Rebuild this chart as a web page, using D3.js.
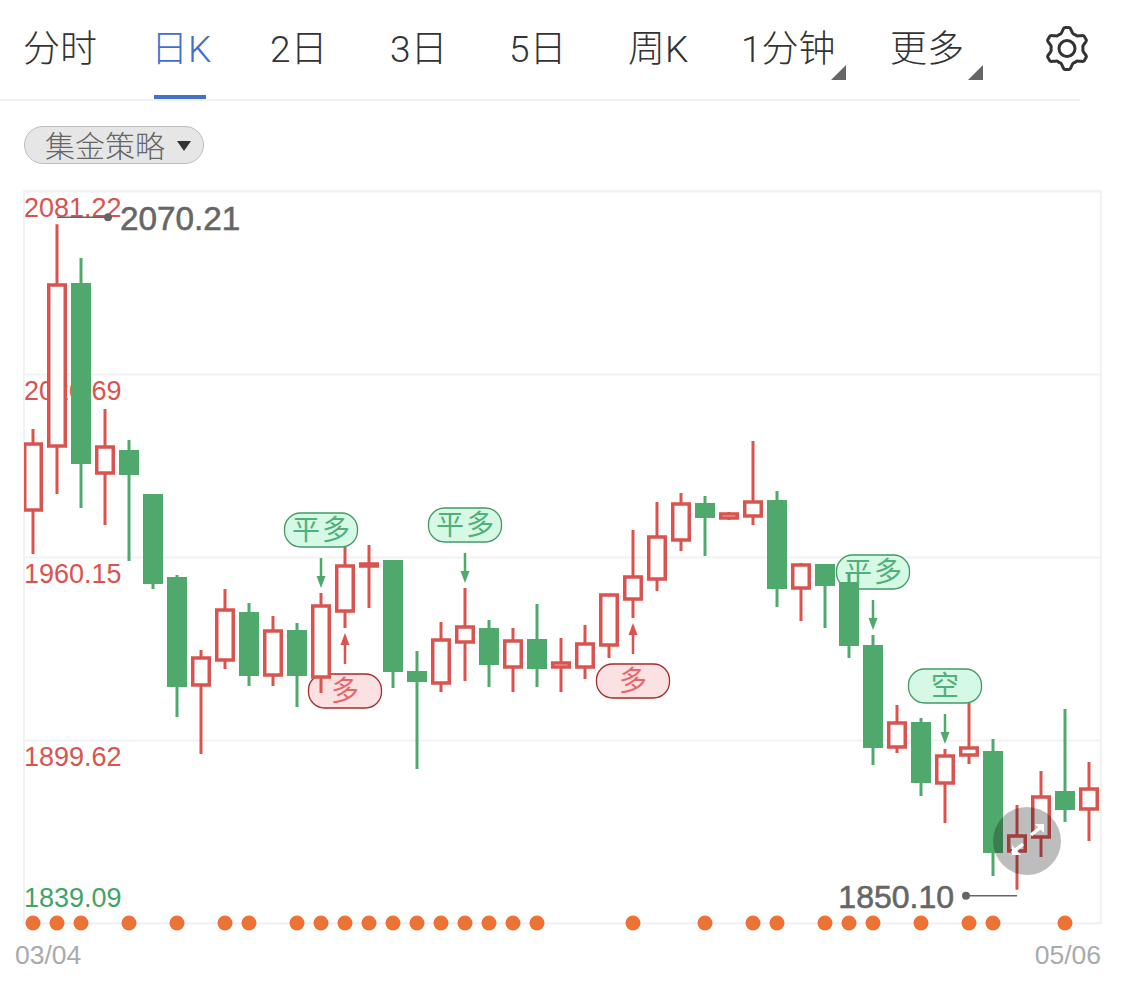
<!DOCTYPE html>
<html><head><meta charset="utf-8">
<script src="https://cdnjs.cloudflare.com/ajax/libs/d3/7.8.5/d3.min.js"></script>
<style>html,body{margin:0;padding:0;background:#fff}svg{display:block}text{font-family:"Liberation Sans","Noto Sans CJK SC",sans-serif}</style>
</head><body><svg id="c" width="1125" height="986"></svg>
<script>
const opens=[1975.70,1996.87,2050.79,1987.94,1995.55,1980.99,1953.54,1917.82,1926.09,1941.96,1921.12,1936.01,1920.46,1942.29,1957.18,1959.16,1922.45,1918.48,1932.04,1936.67,1923.77,1933.03,1923.77,1923.77,1931.05,1946.26,1952.88,1965.78,1978.02,1973.06,1973.72,1979.01,1949.90,1957.84,1951.89,1931.05,1897.31,1905.58,1885.40,1894.66,1895.98,1862.91,1867.54,1882.75,1876.80];
const closes=[1997.53,2050.13,1990.92,1996.54,1987.28,1951.22,1917.15,1926.75,1942.62,1920.79,1935.68,1920.79,1943.95,1957.18,1957.84,1922.12,1918.81,1932.70,1937.00,1924.43,1932.37,1923.11,1925.09,1931.38,1947.59,1953.54,1966.77,1977.69,1973.06,1974.38,1978.35,1949.57,1957.51,1950.56,1930.72,1896.98,1905.25,1885.40,1894.33,1896.98,1862.24,1867.87,1880.77,1876.47,1883.41];
const highs=[2002.50,2070.21,2059.06,2009.11,1998.86,1980.99,1954.20,1929.39,1949.57,1944.94,1940.64,1938.32,1948.25,1963.46,1964.12,1959.16,1929.06,1938.65,1949.90,1939.32,1936.67,1944.61,1933.36,1937.66,1947.92,1969.09,1978.35,1981.33,1980.33,1975.04,1998.53,1981.99,1958.17,1957.84,1954.53,1934.35,1911.20,1906.90,1896.65,1911.86,1899.95,1878.12,1889.37,1909.88,1892.35];
const lows=[1961.15,1980.99,1976.36,1970.74,1958.83,1949.57,1907.23,1894.99,1923.11,1917.48,1917.48,1910.54,1915.17,1936.67,1943.29,1916.82,1890.03,1915.50,1919.14,1917.15,1915.50,1917.15,1915.50,1919.80,1926.75,1939.98,1948.91,1962.14,1960.49,1972.39,1970.74,1943.62,1938.99,1936.67,1926.75,1891.35,1895.32,1881.10,1872.17,1891.68,1854.64,1850.10,1860.92,1872.50,1866.21];
const dotIndexes=[0,1,2,4,6,8,9,11,12,13,14,15,16,17,18,19,20,21,25,28,30,31,33,34,35,37,39,40,43];
const priceTicks=[2081.22,2020.69,1960.15,1899.62,1839.09];
const dateLabels=["03/04","05/06"];
const tabs=["分时","日K","2日","3日","5日","周K","1分钟","更多"];
const shortSignals=[{i:12,t:"平多"},{i:18,t:"平多"},{i:35,t:"平多"},{i:38,t:"空"}];
const longSignals=[{i:13,t:"多"},{i:25,t:"多"}];
const strategyLabel="集金策略";

const RED="#d9534f",GREEN="#4fa96c",GRID="#f2f2f2";
const svg=d3.select("#c");
const L=24,R=1101,T=191,B=923;
const y=d3.scaleLinear().domain([1839.09,2081.22]).range([B,T]);
const x=d3.scaleLinear().domain([0,44]).range([33,1089]);
const candles=opens.map((o,i)=>({i,o,c:closes[i],h:highs[i],l:lows[i],up:closes[i]>=o}));

// header
const tabX=[23,151,270,390,509,628,741,890];
svg.selectAll(".tab").data(tabs).join("text").attr("class","tab")
 .attr("x",(d,i)=>tabX[i]).attr("y",62).attr("font-size",37).attr("font-weight",300)
 .style("font-family",'Roboto,"Noto Sans CJK SC",sans-serif')
 .attr("fill",(d,i)=>i==1?"#3f6fd1":"#333").text(d=>d);
svg.append("rect").attr("x",0).attr("y",99).attr("width",1080).attr("height",2).attr("fill","#f1f1f1");
svg.append("rect").attr("x",154).attr("y",95).attr("width",52).attr("height",4).attr("fill","#4472c4");
[[846,65],[983,65]].forEach(p=>svg.append("path").attr("d",`M${p[0]} ${p[1]}V${p[1]+15}H${p[0]-15}Z`).attr("fill","#666"));
// gear
const gearPts=d3.range(48).map(k=>{const a=k/48*2*Math.PI;const ph=((k%8)+8)%8;const r=(ph<=1||ph==7)?21:(ph==2||ph==6)?18:16;return [a,r];});
svg.append("path").attr("transform","translate(1067,48.5)").attr("d",d3.lineRadial().angle(d=>d[0]).radius(d=>d[1]).curve(d3.curveCatmullRomClosed)(gearPts)).attr("fill","none").attr("stroke","#333").attr("stroke-width",3);
svg.append("circle").attr("cx",1067).attr("cy",48.5).attr("r",8).attr("fill","none").attr("stroke","#333").attr("stroke-width",3);
// pill
svg.append("rect").attr("x",24.5).attr("y",126.5).attr("width",179).attr("height",37).attr("rx",18.5).attr("fill","#e6e6e6").attr("stroke","#bdbdbd");
svg.append("text").attr("x",45).attr("y",157).attr("font-size",30).attr("font-weight",300).attr("fill","#666").text(strategyLabel);
svg.append("path").attr("d","M177 141H191L184 151Z").attr("fill","#333");

// plot frame
svg.append("rect").attr("x",L).attr("y",T).attr("width",R-L).attr("height",B-T).attr("fill","none").attr("stroke",GRID).attr("stroke-width",2);
const axis=d3.axisRight(y).tickValues(priceTicks).tickSize(R-L).tickFormat(d3.format(".2f"));
const ag=svg.append("g").attr("transform",`translate(${L},0)`).call(axis);
ag.select(".domain").remove();
ag.selectAll("line").attr("stroke",GRID).attr("stroke-width",2);
ag.selectAll("text").attr("x",0).attr("font-size",27).attr("text-anchor","start")
 .attr("font-family",'"Liberation Sans",sans-serif')
 .attr("fill",d=>d==1839.09?"#3fa468":RED)
 .attr("dy",0)
 .attr("dominant-baseline","middle")
 .attr("transform",d=>`translate(0,${d==1839.09?-24:18})`);

// x labels
svg.append("text").attr("x",15).attr("y",964).attr("font-size",26.5).attr("fill","#aaa").text(dateLabels[0]);
svg.append("text").attr("x",1101).attr("y",964).attr("text-anchor","end").attr("font-size",26.5).attr("fill","#aaa").text(dateLabels[1]);

// signal bubbles lie under the candles, their text above
const bubbleLayer=svg.append("g"), overLayerItems=[];
function bubble(cx,cy,t,fill,stroke,color){
 bubbleLayer.append("rect").attr("x",cx-36.5).attr("y",cy-17).attr("width",73).attr("height",34).attr("rx",16).attr("fill",fill).attr("stroke",stroke).attr("stroke-width",1.3);
 overLayerItems.push({cx,cy,t,color});
}

// candles
svg.append("clipPath").attr("id","pc").append("rect").attr("x",L).attr("y",T).attr("width",R-L).attr("height",B-T);
const cg=svg.append("g").attr("clip-path","url(#pc)");
const g=cg.selectAll("g").data(candles).join("g");
g.append("line").attr("x1",d=>x(d.i)).attr("x2",d=>x(d.i)).attr("y1",d=>y(d.h)).attr("y2",d=>y(d.l))
 .attr("stroke",d=>d.up?RED:GREEN).attr("stroke-width",3);
g.append("rect")
 .attr("x",d=>x(d.i)-(d.up?8.25:10)).attr("width",d=>d.up?16.5:20)
 .attr("y",d=>y(Math.max(d.o,d.c))).attr("height",d=>Math.abs(y(d.o)-y(d.c)))
 .attr("fill",d=>d.up?"#fff":GREEN).attr("stroke",d=>d.up?RED:"none").attr("stroke-width",3.5);

// dots
svg.selectAll(".dot").data(dotIndexes).join("circle").attr("class","dot")
 .attr("cx",d=>x(d)).attr("cy",B).attr("r",7.5).attr("fill","#ec7236");

// signals
shortSignals.forEach(s=>{
 const cx=x(s.i),top=y(highs[s.i]);
 svg.append("line").attr("x1",cx).attr("x2",cx).attr("y1",top-35).attr("y2",top-14).attr("stroke",GREEN).attr("stroke-width",2.5);
 svg.append("path").attr("d",`M${cx-4.5} ${top-17}H${cx+4.5}L${cx} ${top-5}Z`).attr("fill",GREEN);
 bubble(cx,top-63,s.t,"#d5f9e5","#3f9a66","#4fb07a");
});
longSignals.forEach(s=>{
 const cx=x(s.i),bot=y(lows[s.i]);
 svg.append("line").attr("x1",cx).attr("x2",cx).attr("y1",bot+36).attr("y2",bot+14).attr("stroke",RED).attr("stroke-width",2.5);
 svg.append("path").attr("d",`M${cx-4.5} ${bot+17}H${cx+4.5}L${cx} ${bot+5}Z`).attr("fill",RED);
 bubble(cx,bot+63,s.t,"#fbe1e1","#a82a2a","#e4686a");
});
svg.selectAll(".sig").data(overLayerItems).join("text").attr("class","sig")
 .attr("x",d=>d.cx+1).attr("y",d=>d.cy+10).attr("text-anchor","middle").attr("font-size",28).attr("font-weight",400)
 .attr("letter-spacing",2).attr("fill",d=>d.color).text(d=>d.t);

// extremes
const hi=d3.max(highs),lo=d3.min(lows),hiI=highs.indexOf(hi),loI=lows.indexOf(lo);
const hy=y(hi)-7,ly=y(lo)+6;
svg.append("line").attr("x1",x(hiI)).attr("x2",x(hiI)+51).attr("y1",hy).attr("y2",hy).attr("stroke","#666").attr("stroke-width",1.5);
svg.append("circle").attr("cx",x(hiI)+51).attr("cy",hy).attr("r",4).attr("fill","#666");
svg.append("text").attr("x",x(hiI)+63).attr("y",hy+13).attr("font-size",33.3).attr("fill","#666").attr("stroke","#666").attr("stroke-width",.6).text(hi.toFixed(2));
svg.append("line").attr("x1",x(loI)).attr("x2",x(loI)-51).attr("y1",ly).attr("y2",ly).attr("stroke","#666").attr("stroke-width",1.5);
svg.append("circle").attr("cx",x(loI)-51).attr("cy",ly).attr("r",4).attr("fill","#666");
svg.append("text").attr("x",x(loI)-63).attr("y",ly+12).attr("text-anchor","end").attr("font-size",32).attr("fill","#666").attr("stroke","#666").attr("stroke-width",.6).text(lo.toFixed(2));

// zoom button
svg.append("circle").attr("cx",1027).attr("cy",841).attr("r",34).attr("fill","rgba(0,0,0,.26)");
svg.append("path").attr("d","M1031 835L1041 827M1012 853L1023 844").attr("stroke","#fff").attr("stroke-width",3.5);
svg.append("path").attr("d","M1035 824H1044V833ZM1012 845V855H1021Z").attr("fill","#fff");
</script></body></html>
